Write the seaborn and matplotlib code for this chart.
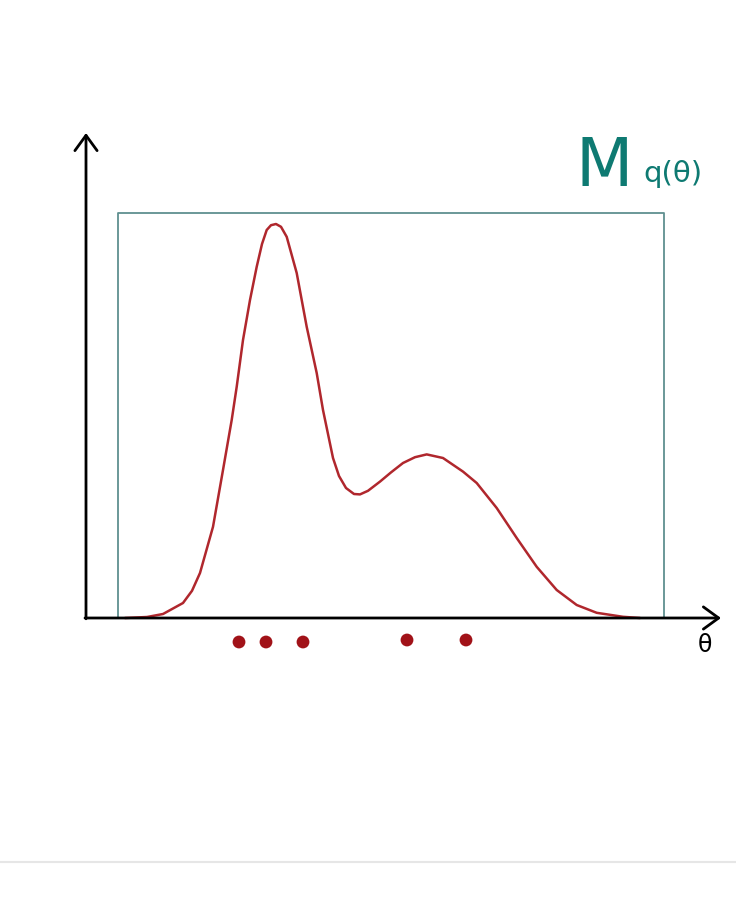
import numpy as np
import pandas as pd
import seaborn as sns
import matplotlib
matplotlib.use("Agg")
from matplotlib import pyplot as plt

# density curve q(theta)
theta = [0.39, 0.61, 0.77, 0.97, 1.06, 1.14, 1.27, 1.37, 1.457, 1.507, 1.57, 1.64, 1.707,
         1.76, 1.807, 1.85, 1.90, 1.95, 2.007, 2.107, 2.207, 2.307, 2.37, 2.42, 2.47,
         2.53, 2.60, 2.68, 2.74, 2.82, 2.94, 3.05, 3.17, 3.29, 3.407, 3.57, 3.77,
         3.907, 4.107, 4.307, 4.507, 4.707, 4.907, 5.107, 5.37, 5.54]
density = [0.0, 0.0025, 0.01, 0.0375, 0.068, 0.1125, 0.228, 0.37, 0.495, 0.578, 0.695, 0.795,
           0.878, 0.935, 0.97, 0.982, 0.985, 0.978, 0.953, 0.8625, 0.728, 0.6125, 0.52, 0.46,
           0.40, 0.355, 0.325, 0.31, 0.309, 0.318, 0.341, 0.364, 0.3875, 0.402, 0.409, 0.40,
           0.366, 0.3375, 0.275, 0.20, 0.128, 0.07, 0.0325, 0.013, 0.003, 0.0]

# samples shown under the axis
samples = [1.53, 1.80, 2.17, 3.21, 3.80]
sample_y = [-0.06, -0.06, -0.06, -0.055, -0.055]

# the box M (support of q)
box_theta = [0.32, 5.78]
box_top = 1.0125

sns.set_style("white")
plt.rcParams['font.family'] = ['DejaVu Sans']

fig = plt.figure(figsize=(7.36, 9.24), dpi=100)
ax = fig.add_axes([0, 0, 1, 1])
ax.set_xlim(-0.86, 6.5)
ax.set_ylim(-0.765, 1.545)
ax.axis('off')

teal = '#0e7a72'
box_col = '#5f9090'
red = '#b0272d'

# box
ax.plot([box_theta[0], box_theta[0], box_theta[1], box_theta[1]],
        [0, box_top, box_top, 0], color=box_col, lw=1.3, zorder=1)

# curve
df = pd.DataFrame({'theta': theta, 'q': density})
sns.lineplot(data=df, x='theta', y='q', sort=False, color=red, lw=1.8, ax=ax, zorder=3)

# samples
sns.scatterplot(x=samples, y=sample_y, color='#a11218', s=85, edgecolor='none', ax=ax, zorder=4)

# axes arrows
arrow = dict(arrowstyle='->,head_length=0.55,head_width=0.4', color='black', lw=2.0,
             shrinkA=0, shrinkB=0, mutation_scale=20)
ax.annotate('', xy=(0, 1.2125), xytext=(0, -0.002), arrowprops=arrow, zorder=5)
ax.annotate('', xy=(6.35, 0.0), xytext=(-0.01, 0.0), arrowprops=arrow, zorder=5)

ax.text(6.19, -0.068, 'θ', fontsize=17, color='black', ha='center', va='center')

# label
ax.text(5.18, 1.08, 'M', fontsize=48, color=teal, ha='center', va='baseline')
ax.text(5.87, 1.09, 'q(θ)', fontsize=21, color=teal, ha='center', va='baseline')

# thin grey rule near bottom
ax.axhline(-0.61, color='#e6e6e6', lw=1.5)

fig.savefig('out.png', dpi=100)
